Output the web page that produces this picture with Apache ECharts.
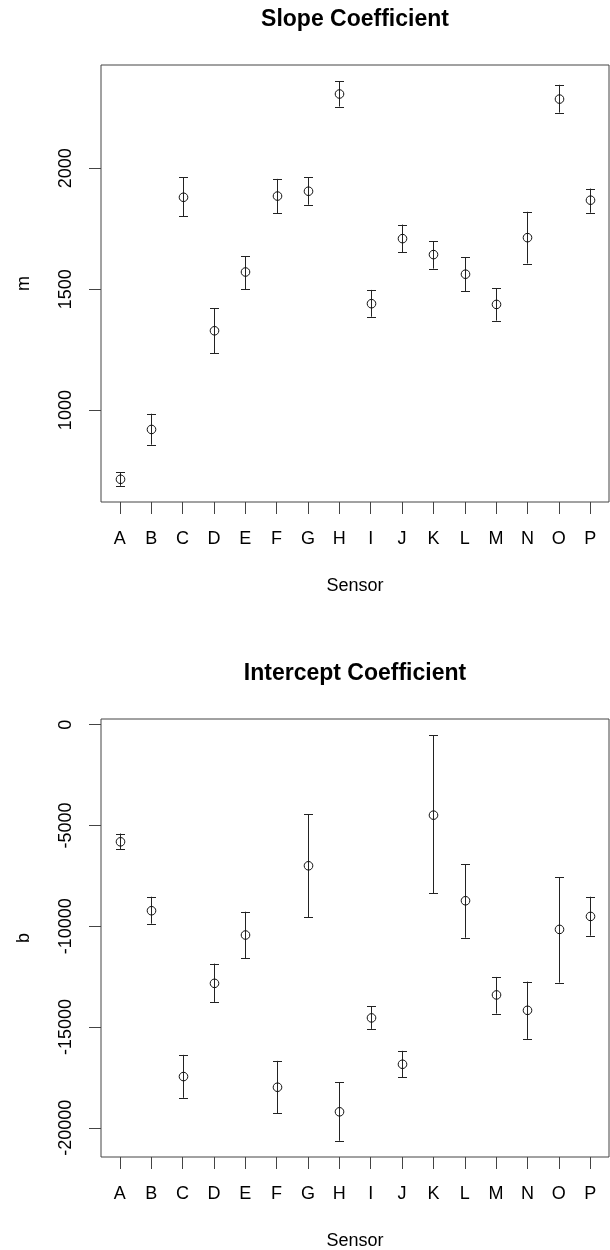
<!DOCTYPE html>
<html>
<head>
<meta charset="utf-8">
<title>Sensor Coefficients</title>
<script src="https://cdn.jsdelivr.net/npm/echarts@6/dist/echarts.min.js"></script>
<style>
  html, body { margin: 0; padding: 0; background: #fff; }
  #chart { width: 610px; height: 1250px; }
</style>
</head>
<body>
<div id="chart"></div>
<script>
// Sensor labels along the x axis
const sensors = ['A', 'B', 'C', 'D', 'E', 'F', 'G', 'H', 'I', 'J', 'K', 'L', 'M', 'N', 'O', 'P'];

// Slope coefficient m: estimate with lower / upper interval bounds
const slopeMean  = [714, 920, 1880, 1328, 1571, 1885, 1905, 2307, 1440, 1709, 1643, 1562, 1437, 1713, 2286, 1868];
const slopeLower = [687, 857, 1801, 1235, 1500, 1813, 1849, 2255, 1386, 1653, 1585, 1492, 1370, 1606, 2230, 1816];
const slopeUpper = [743, 985, 1963, 1421, 1637, 1956, 1963, 2360, 1497, 1767, 1699, 1632, 1504, 1820, 2345, 1916];

// Intercept coefficient b: estimate with lower / upper interval bounds
const interceptMean  = [-5813, -9232, -17458, -12834, -10437, -17988, -7002, -19207, -14549, -16848, -4490, -8737, -13409, -14172, -10158, -9514];
const interceptLower = [-6175, -9876, -18513, -13757, -11576, -19277, -9544, -20644, -15094, -17493, -8375, -10570, -14336, -15590, -12800, -10471];
const interceptUpper = [-5401, -8538, -16383, -11858, -9282, -16680, -4440, -17740, -13974, -16184, -525, -6938, -12517, -12750, -7582, -8538];

// Tick positions
const sensorTicks = [1, 2, 3, 4, 5, 6, 7, 8, 9, 10, 11, 12, 13, 14, 15, 16];
const slopeTicks = [1000, 1500, 2000];
const interceptTicks = [0, -5000, -10000, -15000, -20000];

const FONT = "'Liberation Sans', Arial, Helvetica, sans-serif";
const INK = '#222';
const FRAME = '#444';

// Axis limits padded by 4% of the data range on each side
function paddedRange(lower, upper) {
  const lo = Math.min.apply(null, lower);
  const hi = Math.max.apply(null, upper);
  const pad = 0.04 * (hi - lo);
  return [lo - pad, hi + pad];
}

function rows(mean, lower, upper) {
  return mean.map((m, i) => [i + 1, m, lower[i], upper[i]]);
}

// Vertical interval bar with end caps and an open circle at the estimate
function renderErrorBar(params, api) {
  const x = api.value(0);
  const pMid = api.coord([x, api.value(1)]);
  const pLo = api.coord([x, api.value(2)]);
  const pHi = api.coord([x, api.value(3)]);
  const cx = Math.round(pMid[0]) + 0.5;
  const cap = 4.5;
  const line = { stroke: INK, lineWidth: 1, fill: null };
  return {
    type: 'group',
    children: [
      { type: 'line', shape: { x1: cx, y1: pLo[1], x2: cx, y2: pHi[1] }, style: line },
      { type: 'line', shape: { x1: cx - cap, y1: Math.round(pLo[1]) + 0.5, x2: cx + cap, y2: Math.round(pLo[1]) + 0.5 }, style: line },
      { type: 'line', shape: { x1: cx - cap, y1: Math.round(pHi[1]) + 0.5, x2: cx + cap, y2: Math.round(pHi[1]) + 0.5 }, style: line },
      { type: 'circle', shape: { cx: cx, cy: pMid[1], r: 4.3 }, style: { stroke: '#111', lineWidth: 1, fill: null } }
    ]
  };
}

function xAxisFor(gridIndex) {
  return {
    gridIndex: gridIndex,
    type: 'value',
    position: 'bottom',
    min: 0.4,
    max: 16.6,
    name: 'Sensor',
    nameLocation: 'middle',
    nameGap: 75,
    nameTextStyle: { fontFamily: FONT, fontSize: 18, color: '#000' },
    axisLine: { show: false, onZero: false },
    splitLine: { show: false },
    axisTick: { show: true, inside: false, length: 12, customValues: sensorTicks, lineStyle: { color: FRAME, width: 1 } },
    axisLabel: {
      customValues: sensorTicks,
      margin: 28,
      fontFamily: FONT,
      fontSize: 18,
      color: '#000',
      formatter: v => sensors[Math.round(v) - 1] || ''
    }
  };
}

function yAxisFor(gridIndex, name, range, ticks) {
  return {
    gridIndex: gridIndex,
    type: 'value',
    position: 'left',
    min: range[0],
    max: range[1],
    name: name,
    nameLocation: 'middle',
    nameGap: 68,
    nameRotate: 90,
    nameTextStyle: { fontFamily: FONT, fontSize: 18, color: '#000' },
    axisLine: { show: false, onZero: false },
    splitLine: { show: false },
    axisTick: { show: true, inside: false, length: 12, customValues: ticks, lineStyle: { color: FRAME, width: 1 } },
    axisLabel: {
      customValues: ticks,
      rotate: 90,
      margin: 26,
      fontFamily: FONT,
      fontSize: 18,
      color: '#000',
      formatter: v => String(Math.round(v))
    }
  };
}

const chart = echarts.init(document.getElementById('chart'), null, { renderer: 'canvas' });

chart.setOption({
  animation: false,
  backgroundColor: '#fff',
  title: [
    {
      text: 'Slope Coefficient',
      left: 355, top: 8, textAlign: 'center', padding: 0,
      textStyle: { fontFamily: FONT, fontSize: 23, fontWeight: 'bold', color: '#000' }
    },
    {
      text: 'Intercept Coefficient',
      left: 355, top: 662, textAlign: 'center', padding: 0,
      textStyle: { fontFamily: FONT, fontSize: 23, fontWeight: 'bold', color: '#000' }
    }
  ],
  grid: [
    { left: 101, top: 65, width: 508, height: 437, show: true, borderColor: FRAME, borderWidth: 1, backgroundColor: 'transparent', containLabel: false, outerBoundsMode: 'none' },
    { left: 101, top: 719, width: 508, height: 438, show: true, borderColor: FRAME, borderWidth: 1, backgroundColor: 'transparent', containLabel: false, outerBoundsMode: 'none' }
  ],
  xAxis: [xAxisFor(0), xAxisFor(1)],
  yAxis: [
    yAxisFor(0, 'm', paddedRange(slopeLower, slopeUpper), slopeTicks),
    yAxisFor(1, 'b', paddedRange(interceptLower, interceptUpper), interceptTicks)
  ],
  series: [
    {
      type: 'custom',
      name: 'm',
      xAxisIndex: 0, yAxisIndex: 0,
      renderItem: renderErrorBar,
      encode: { x: 0, y: [1, 2, 3] },
      data: rows(slopeMean, slopeLower, slopeUpper),
      clip: false
    },
    {
      type: 'custom',
      name: 'b',
      xAxisIndex: 1, yAxisIndex: 1,
      renderItem: renderErrorBar,
      encode: { x: 0, y: [1, 2, 3] },
      data: rows(interceptMean, interceptLower, interceptUpper),
      clip: false
    }
  ]
});
</script>
</body>
</html>
